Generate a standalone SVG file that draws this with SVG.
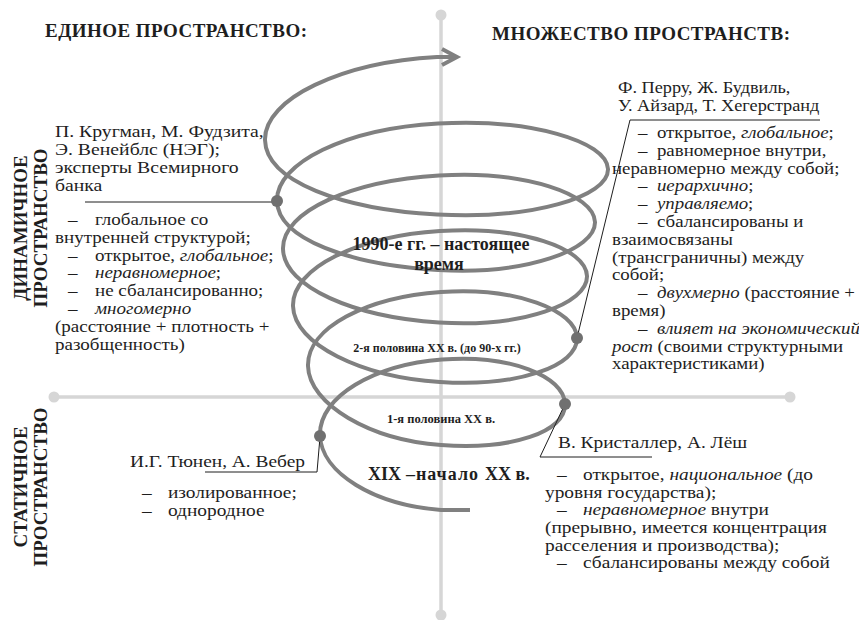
<svg xmlns="http://www.w3.org/2000/svg" width="859" height="620" viewBox="0 0 859 620">
<style>
text{font-family:"Liberation Serif","Times New Roman",serif;fill:#1e1e1e}
.t{font-size:17px}
.h{font-size:19px;font-weight:bold}
.c{font-weight:bold}
.i{font-style:italic}
.axis{stroke:#d6d6d6;stroke-width:3.5;fill:none}
.adot{fill:#d6d6d6}
.spiral{stroke:#808080;stroke-width:4;fill:none}
.lead{stroke:#1e1e1e;stroke-width:1;fill:none}
.pdot{fill:#707070}
</style>
<rect width="859" height="620" fill="#ffffff"/>
<g id="axes">
<line class="axis" x1="441" y1="15" x2="441" y2="615"/>
<line class="axis" x1="54" y1="397" x2="790" y2="397"/>
<circle class="adot" cx="441" cy="15" r="5.5"/>
<circle class="adot" cx="441" cy="615" r="5.5"/>
<circle class="adot" cx="54" cy="397" r="5.5"/>
<circle class="adot" cx="790" cy="397" r="5.5"/>
</g>
<g id="spiral">
<path class="spiral" d="M470 510 L441 510 C374.72 504.81 320.99 473.33 320 435 C319.01 396.67 374.34 364.69 442 359.5 C509.66 354.31 564.17 376.05 565 404 C565.83 431.95 511.97 450.19 441 445 C370.03 439.81 308.99 404.33 308 366 C307.01 327.67 366.72 297.19 441 292 C515.28 286.81 576.17 310.05 577 338 C577.83 365.95 518.43 387.19 440 382 C361.57 376.81 293.99 344.33 293 306 C292.01 267.67 358.81 236.19 440 231 C521.19 225.81 586.17 248.05 587 276 C587.83 303.95 522.95 327.69 439 322.5 C355.05 317.31 283.99 287.33 283 249 C282.01 210.67 352.84 180.69 439 175.5 C525.16 170.31 594.17 194.05 595 222 C595.83 249.95 525.82 275.19 438 270 C350.18 264.81 277.99 239.33 277 201 C276.01 162.67 346.59 128.69 438 123.5 C529.41 118.31 607.17 141.05 608 169 C608.83 196.95 531.72 219.69 437 214.5 C342.28 209.31 265.99 181.42 265 140 C264.01 98.58 342 62.19 437 57 L455 57"/>
<polyline class="spiral" points="442,49 457,57 442,65"/>
</g>
<g id="connectors">
<line class="lead" x1="85" y1="202" x2="277" y2="202"/>
<polyline class="lead" points="577,338 630,120 820,120"/>
<polyline class="lead" points="565,404 540,457 652,457"/>
<polyline class="lead" points="320,437 317,472 205,472"/>
<circle class="pdot" cx="277" cy="201" r="6"/>
<circle class="pdot" cx="577" cy="338" r="6"/>
<circle class="pdot" cx="565" cy="404" r="6"/>
<circle class="pdot" cx="320" cy="436" r="6"/>
</g>
<g id="header-left"><text class="h" x="45" y="37" textLength="262">ЕДИНОЕ ПРОСТРАНСТВО:</text></g>
<g id="header-right"><text class="h" x="492" y="40" textLength="298">МНОЖЕСТВО ПРОСТРАНСТВ:</text></g>
<g id="label-dynamic">
<text class="h" text-anchor="middle" transform="translate(27,228) rotate(-90)">ДИНАМИЧНОЕ</text>
<text class="h" text-anchor="middle" transform="translate(47,228) rotate(-90)">ПРОСТРАНСТВО</text>
</g>
<g id="label-static">
<text class="h" text-anchor="middle" transform="translate(27,487) rotate(-90)">СТАТИЧНОЕ</text>
<text class="h" text-anchor="middle" transform="translate(47,487) rotate(-90)">ПРОСТРАНСТВО</text>
</g>
<g id="node-krugman">
<g transform="matrix(1.16 0 0 1 -8.8 0)">
<text class="t" x="55" y="137.5">П. Кругман, М. Фудзита,</text>
<text class="t" x="55" y="155.3">Э. Венейблс (НЭГ);</text>
<text class="t" x="55" y="173.1">эксперты Всемирного</text>
<text class="t" x="55" y="190.9">банка</text>
</g>
<g transform="matrix(1.12 0 0 1 -6.6 0)">
<text class="t" y="225"><tspan x="66.6">–</tspan><tspan x="90.7">глобальное со</tspan></text>
<text class="t" x="55" y="242.8">внутренней структурой;</text>
<text class="t" y="260.6"><tspan x="66.6">–</tspan><tspan x="90.7">открытое, </tspan><tspan class="i">глобальное</tspan><tspan>;</tspan></text>
<text class="t" y="278.4"><tspan x="66.6">–</tspan><tspan x="90.7" class="i">неравномерное</tspan><tspan>;</tspan></text>
<text class="t" y="296.2"><tspan x="66.6">–</tspan><tspan x="90.7">не сбалансированно;</tspan></text>
<text class="t" y="314"><tspan x="66.6">–</tspan><tspan x="90.7" class="i">многомерно</tspan></text>
<text class="t" x="55" y="331.8">(расстояние + плотность +</text>
<text class="t" x="55" y="349.6">разобщенность)</text>
</g>
</g>
<g id="node-perroux">
<g transform="matrix(1.075 0 0 1 -46.35 0)">
<text class="t" x="618" y="93">Ф. Перру, Ж. Будвиль,</text>
<text class="t" x="618" y="110.8">У. Айзард, Т. Хегерстранд</text>
</g>
<g transform="matrix(1.11 0 0 1 -67.32 0)">
<text class="t" y="138"><tspan x="635.4">–</tspan><tspan x="652.5">открытое, </tspan><tspan class="i">глобальное</tspan><tspan>;</tspan></text>
<text class="t" y="155.8"><tspan x="635.4">–</tspan><tspan x="652.5">равномерное внутри,</tspan></text>
<text class="t" x="612" y="173.6">неравномерно между собой;</text>
<text class="t" y="191.4"><tspan x="635.4">–</tspan><tspan x="652.5" class="i">иерархично</tspan><tspan>;</tspan></text>
<text class="t" y="209.2"><tspan x="635.4">–</tspan><tspan x="652.5" class="i">управляемо</tspan><tspan>;</tspan></text>
<text class="t" y="227"><tspan x="635.4">–</tspan><tspan x="652.5">сбалансированы и</tspan></text>
<text class="t" x="612" y="244.8">взаимосвязаны</text>
<text class="t" x="612" y="262.6">(трансграничны)  между</text>
<text class="t" x="612" y="280.4">собой;</text>
<text class="t" y="298.2"><tspan x="635.4">–</tspan><tspan x="652.5" class="i">двухмерно</tspan><tspan> (расстояние +</tspan></text>
<text class="t" x="612" y="316">время)</text>
<text class="t" y="333.8"><tspan x="635.4">–</tspan><tspan x="652.5" class="i">влияет на экономический</tspan></text>
<text class="t" y="351.6"><tspan x="612" class="i">рост</tspan><tspan> (своими структурными</tspan></text>
<text class="t" x="612" y="369.4">характеристиками)</text>
</g>
</g>
<g id="node-thunen" transform="matrix(1.14 0 0 1 -18.2 0)">
<text class="t" x="130" y="467">И.Г. Тюнен, А. Вебер</text>
<text class="t" y="498"><tspan x="140.5">–</tspan><tspan x="163.3">изолированное;</tspan></text>
<text class="t" y="516"><tspan x="140.5">–</tspan><tspan x="163.3">однородное</tspan></text>
</g>
<g id="node-christaller" transform="matrix(1.14 0 0 1 -76.3 0)">
<text class="t" x="556.4" y="448">В. Кристаллер, А. Лёш</text>
<text class="t" y="480"><tspan x="555.5">–</tspan><tspan x="578.3">открытое, </tspan><tspan class="i">национальное</tspan><tspan> (до</tspan></text>
<text class="t" x="545" y="498">уровня государства);</text>
<text class="t" y="515.5"><tspan x="555.5">–</tspan><tspan x="578.3" class="i">неравномерное</tspan><tspan> внутри</tspan></text>
<text class="t" x="545" y="533">(прерывно, имеется концентрация</text>
<text class="t" x="545" y="551">расселения и производства);</text>
<text class="t" y="568.5"><tspan x="555.5">–</tspan><tspan x="578.3">сбалансированы между собой</tspan></text>
</g>
<g id="era-1990">
<text class="c" font-size="18" x="441" y="250" text-anchor="middle">1990-е гг. – настоящее</text>
<text class="c" font-size="18" x="439" y="270" text-anchor="middle">время</text>
</g>
<g id="era-xx-2"><text class="c" font-size="12" x="437" y="352" text-anchor="middle">2-я половина XX в. (до 90-х гг.)</text></g>
<g id="era-xx-1"><text class="c" font-size="12.5" x="441" y="423" text-anchor="middle">1-я половина XX в.</text></g>
<g id="era-xix"><text class="c" font-size="18" y="480"><tspan x="368">XIX</tspan><tspan x="406" textLength="72">–начало</tspan><tspan x="485">XX в.</tspan></text></g>
</svg>
